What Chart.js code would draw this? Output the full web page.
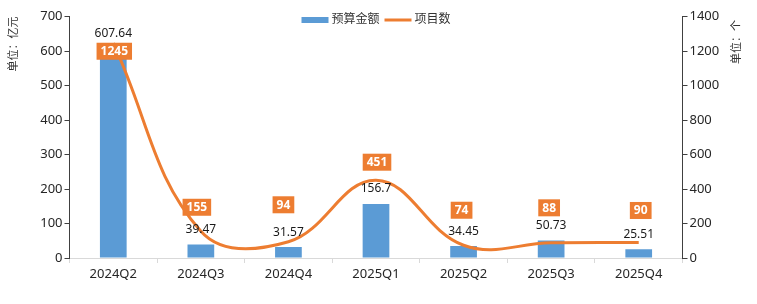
<!DOCTYPE html>
<html>
<head>
<meta charset="utf-8">
<script src="https://cdn.jsdelivr.net/npm/chart.js@4.4.1/dist/chart.umd.min.js"></script>
<style>
  html, body { margin: 0; padding: 0; background: #fff; }
</style>
</head>
<body>
<canvas id="myChart" width="757" height="304"></canvas>
<script>
// Chart data
const quarters = ['2024Q2', '2024Q3', '2024Q4', '2025Q1', '2025Q2', '2025Q3', '2025Q4'];
const budget = [607.64, 39.47, 31.57, 156.7, 34.45, 50.73, 25.51];   // 预算金额 (亿元)
const projects = [1245, 155, 94, 451, 74, 88, 90];                   // 项目数 (个)
const leftTicks = [0, 100, 200, 300, 400, 500, 600, 700];
const rightTicks = [0, 200, 400, 600, 800, 1000, 1200, 1400];
const seriesNames = ['预算金额', '项目数'];
const leftTitle = '单位：亿元';
const rightTitle = '单位：个';

// Styling
const FONT = "'Noto Sans', 'Noto Sans CJK SC', sans-serif";
const BAR_COLOR = '#5B9BD5';
const LINE_COLOR = '#ED7D31';
const AXIS_DARK = '#404040';
const AXIS_LIGHT = '#d9d9d9';
// nudges (px) for the orange project-count boxes, relative to each line point
const projectLabelShift = [[1, 8], [-4, -24], [-5, -37], [1, -18], [-2, -35], [-2, -35], [2, -32]];

Chart.defaults.font.family = FONT;
Chart.defaults.font.size = 13;
Chart.defaults.color = '#333';

// Draw value labels for bars and boxed labels for the line
const valueLabels = {
  id: 'valueLabels',
  afterDatasetsDraw(chart) {
    const ctx = chart.ctx;
    const barMeta = chart.getDatasetMeta(0);
    const lineMeta = chart.getDatasetMeta(1);
    ctx.save();
    ctx.textAlign = 'center';
    ctx.textBaseline = 'middle';
    ctx.font = '12px ' + FONT;
    ctx.fillStyle = '#1a1a1a';
    barMeta.data.forEach((bar, i) => {
      ctx.fillText(String(budget[i]), bar.x, bar.y - 15);
    });
    ctx.font = 'bold 12px ' + FONT;
    lineMeta.data.forEach((pt, i) => {
      const text = String(projects[i]);
      const w = ctx.measureText(text).width + 8;
      const h = 17;
      const cx = pt.x + projectLabelShift[i][0];
      const cy = pt.y + projectLabelShift[i][1];
      ctx.fillStyle = LINE_COLOR;
      ctx.fillRect(cx - w / 2, cy - h / 2, w, h);
      ctx.fillStyle = '#fff';
      ctx.fillText(text, cx, cy + 0.5);
    });
    ctx.restore();
  }
};

// Axis titles near the top of each axis and a legend inside the plot
const extras = {
  id: 'extras',
  afterDraw(chart) {
    const ctx = chart.ctx;
    ctx.save();
    ctx.fillStyle = '#333';
    ctx.font = '11px ' + FONT;
    ctx.textAlign = 'center';
    ctx.textBaseline = 'middle';
    [[leftTitle, 14, 44], [rightTitle, 737, 42]].forEach(([t, x, y]) => {
      ctx.save();
      ctx.translate(x, y);
      ctx.rotate(-Math.PI / 2);
      ctx.fillText(t, 0, 0);
      ctx.restore();
    });

    // legend
    ctx.font = '12px ' + FONT;
    ctx.textAlign = 'left';
    const sw = 27, gap = 3, itemGap = 5;
    const w0 = ctx.measureText(seriesNames[0]).width;
    const w1 = ctx.measureText(seriesNames[1]).width;
    const total = sw + gap + w0 + itemGap + sw + gap + w1;
    let x = (chart.chartArea.left + chart.chartArea.right) / 2 - total / 2;
    const y = 20;
    ctx.fillStyle = BAR_COLOR;
    ctx.fillRect(x, y - 3, sw, 6);
    x += sw + gap;
    ctx.fillStyle = '#333';
    ctx.fillText(seriesNames[0], x, y);
    x += w0 + itemGap;
    ctx.strokeStyle = LINE_COLOR;
    ctx.lineWidth = 3;
    ctx.beginPath();
    ctx.moveTo(x, y);
    ctx.lineTo(x + sw, y);
    ctx.stroke();
    x += sw + gap;
    ctx.fillText(seriesNames[1], x, y);
    ctx.restore();
  }
};

const ctx = document.getElementById('myChart');

new Chart(ctx, {
  type: 'bar',
  data: {
    labels: quarters,
    datasets: [
      {
        type: 'bar',
        label: seriesNames[0],
        data: budget,
        backgroundColor: BAR_COLOR,
        barPercentage: 0.305,
        categoryPercentage: 1,
        yAxisID: 'y',
        order: 1,
      },
      {
        type: 'line',
        label: seriesNames[1],
        data: projects,
        borderColor: LINE_COLOR,
        backgroundColor: LINE_COLOR,
        borderWidth: 3,
        tension: 0.4,
        pointRadius: 0,
        yAxisID: 'y1',
        order: 0,
      },
    ],
  },
  options: {
    responsive: false,
    animation: false,
    layout: { padding: { top: 16.5, left: 0, right: 0, bottom: 0 } },
    plugins: {
      legend: { display: false },
      tooltip: { enabled: false },
    },
    scales: {
      x: {
        grid: { offset: true, drawOnChartArea: false, tickLength: 5, color: AXIS_LIGHT },
        border: { color: AXIS_LIGHT },
        ticks: { padding: 3, color: '#262626' },
        afterFit(scale) { scale.height = 46; },
      },
      y: {
        position: 'left',
        min: leftTicks[0],
        max: leftTicks[leftTicks.length - 1],
        ticks: {
          stepSize: leftTicks[1] - leftTicks[0],
          padding: 2,
          color: '#262626',
          callback: (v) => String(v),
        },
        grid: { drawOnChartArea: false, tickLength: 5, color: AXIS_DARK },
        border: { color: AXIS_DARK },
        afterFit(scale) { scale.width = 69.5; },
      },
      y1: {
        position: 'right',
        min: rightTicks[0],
        max: rightTicks[rightTicks.length - 1],
        ticks: {
          stepSize: rightTicks[1] - rightTicks[0],
          padding: 2,
          color: '#262626',
          callback: (v) => String(v),
        },
        grid: { drawOnChartArea: false, tickLength: 5, color: AXIS_DARK },
        border: { color: AXIS_DARK },
        afterFit(scale) { scale.width = 74.5; },
      },
    },
  },
  plugins: [valueLabels, extras],
});
</script>
</body>
</html>
